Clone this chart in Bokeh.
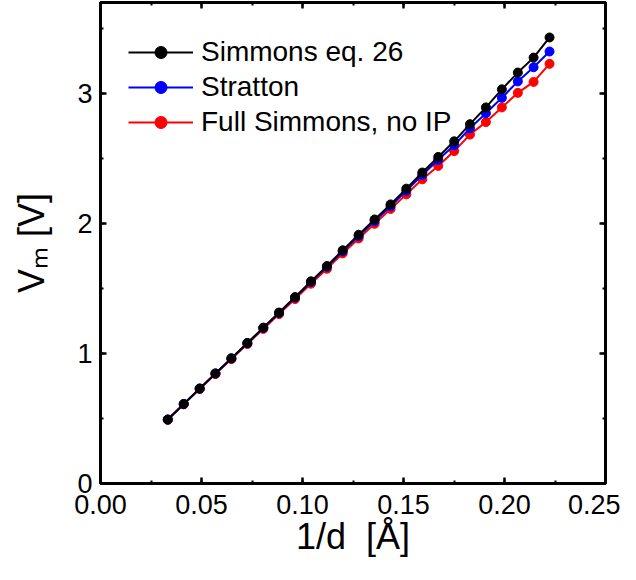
from bokeh.plotting import figure
from bokeh.models import (LinearAxis, SingleIntervalTicker, NumeralTickFormatter,
                          Range1d, Legend, LegendItem, CustomJSTickFormatter)
from bokeh.embed import file_html
from bokeh.resources import INLINE

# ---- data ----
inv_d = [0.0333, 0.0412, 0.0491, 0.0569, 0.0648, 0.0727, 0.0806, 0.0884, 0.0963,
         0.1042, 0.1121, 0.1199, 0.1278, 0.1357, 0.1436, 0.1514, 0.1593, 0.1672,
         0.1751, 0.1829, 0.1908, 0.1987, 0.2066, 0.2144, 0.2223]
simmons26 = [0.492, 0.612, 0.731, 0.847, 0.963, 1.081, 1.199, 1.315, 1.434,
             1.555, 1.673, 1.794, 1.913, 2.031, 2.147, 2.268, 2.392, 2.512,
             2.632, 2.764, 2.893, 3.032, 3.161, 3.276, 3.431]
stratton = [0.492, 0.611, 0.730, 0.846, 0.962, 1.079, 1.197, 1.312, 1.430,
            1.550, 1.667, 1.786, 1.903, 2.019, 2.133, 2.252, 2.373, 2.490,
            2.602, 2.733, 2.848, 2.967, 3.093, 3.202, 3.323]
full_simmons = [0.490, 0.609, 0.727, 0.842, 0.957, 1.073, 1.189, 1.303, 1.419,
                1.537, 1.652, 1.770, 1.885, 1.998, 2.112, 2.224, 2.340, 2.443,
                2.557, 2.684, 2.780, 2.893, 3.005, 3.089, 3.228]
series_names = ["Simmons eq. 26", "Stratton", "Full Simmons, no IP"]
series_colors = ["black", "#0000ff", "#ff0000"]

FONT = "Liberation Sans"

p = figure(width=620, height=564, output_backend="svg", toolbar_location=None,
           x_range=Range1d(0, 0.25), y_range=Range1d(0, 3.7),
           min_border_left=100, min_border_right=15, min_border_top=2,
           min_border_bottom=81, x_axis_type=None, y_axis_type=None)
p.grid.visible = False
p.outline_line_color = "black"
p.outline_line_width = 3
p.background_fill_color = "white"
p.border_fill_color = "white"


def style_axis(ax):
    ax.axis_line_width = 3
    ax.axis_line_color = "black"
    ax.major_tick_in = 6
    ax.major_tick_out = 0
    ax.minor_tick_in = 3
    ax.minor_tick_out = 0
    ax.major_tick_line_width = 2.5
    ax.minor_tick_line_width = 2
    ax.major_label_text_font = FONT
    ax.major_label_text_color = "black"
    ax.major_label_text_font_size = "27px"
    ax.axis_label_text_font = FONT
    ax.axis_label_text_font_style = "normal"
    ax.axis_label_text_font_size = "36px"
    ax.axis_label_text_color = "black"


xb = LinearAxis(ticker=SingleIntervalTicker(interval=0.05, num_minor_ticks=2),
                formatter=NumeralTickFormatter(format="0.00"),
                axis_label="1/d\u00a0 [Å]")
style_axis(xb)
xb.major_label_standoff = 11
xb.axis_label_standoff = -1
p.add_layout(xb, "below")

yl = LinearAxis(ticker=SingleIntervalTicker(interval=1, num_minor_ticks=2),
                axis_label="Vₘ [V]")
style_axis(yl)
yl.major_label_standoff = 8
yl.axis_label_standoff = 22
p.add_layout(yl, "left")

blank = CustomJSTickFormatter(code="return '';")
xt = LinearAxis(ticker=SingleIntervalTicker(interval=0.05, num_minor_ticks=2),
                formatter=blank)
style_axis(xt)
xt.major_label_standoff = 0
p.add_layout(xt, "above")

yr = LinearAxis(ticker=SingleIntervalTicker(interval=1, num_minor_ticks=2),
                formatter=blank)
style_axis(yr)
yr.major_label_standoff = 0
p.add_layout(yr, "right")

items = []
data_list = [simmons26, stratton, full_simmons]
renderers = {}
for name, color, ys in reversed(list(zip(series_names, series_colors, data_list))):
    l = p.line(inv_d, ys, line_color=color, line_width=2)
    s = p.scatter(inv_d, ys, size=9, fill_color=color, line_color=color)
    renderers[name] = [l, s]
for name in series_names:
    items.append(LegendItem(label=name, renderers=renderers[name]))

legend = Legend(items=items, location=(28, 345))
legend.label_text_font = FONT
legend.label_text_font_size = "28px"
legend.label_text_color = "black"
legend.glyph_width = 65
legend.glyph_height = 30
legend.label_height = 30
legend.spacing = 3
legend.padding = 10
legend.margin = 0
legend.label_standoff = 8
legend.border_line_color = None
legend.background_fill_alpha = 0
p.add_layout(legend)

open("out.html", "w").write(file_html(p, INLINE))
